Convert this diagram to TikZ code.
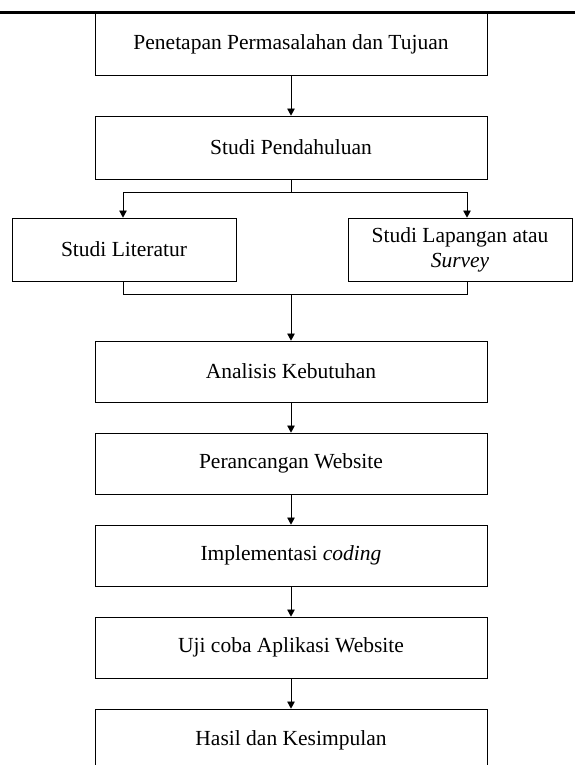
\documentclass[tikz,border=0pt]{standalone}
\usepackage{fontspec}
\setmainfont{Liberation Serif}
\usetikzlibrary{calc}
\usetikzlibrary{arrows.meta}
\tikzset{>={Triangle[width=7.5pt,length=7pt]}}
\tikzset{stage/.style={draw, line width=0.8pt, minimum width=392pt, minimum height=62pt,
    inner sep=0pt, align=center, font=\fontsize{21.5}{25}\selectfont}}
\tikzset{study/.style={stage, minimum width=224pt, minimum height=63pt}}

\begin{document}
\begin{tikzpicture}[x=1pt,y=-1pt]
    \useasboundingbox (0,0) rectangle (575,765);
    \clip (0,0) rectangle (575,765);

    \pgfmathsetmacro\cx{291} % main column
    \pgfmathsetmacro\ysplit{192}
    \pgfmathsetmacro\yjoin{294}
    \coordinate (split) at (\cx,\ysplit);
    \coordinate (splitL) at (123,\ysplit);
    \coordinate (splitR) at (467,\ysplit);
    \coordinate (join) at (\cx,\yjoin);
    \coordinate (joinL) at (123,\yjoin);
    \coordinate (joinR) at (467,\yjoin);

    % TOP RULE
    \draw[line width=2.5pt] (0,12.5) -- (575,12.5);

    % STAGES
    \node[stage] (tujuan) at (\cx,44) {Penetapan Permasalahan dan Tujuan};
    \node[stage, minimum height=63pt] (pendahuluan) at (\cx,147.5) {Studi Pendahuluan};
    \node[study] (literatur) at (124,249.5) {Studi Literatur};
    \node[study] (survei) at (460,249.5) {Studi Lapangan atau\\\textit{Survey}};
    \node[stage, minimum height=61pt] (analisis) at (\cx,371.5) {Analisis Kebutuhan};
    \node[stage, minimum height=61pt] (rancang) at (\cx,463.5) {Perancangan Website};
    \node[stage, minimum height=61pt] (koding) at (\cx,555.5) {Implementasi \textit{coding}};
    \node[stage, minimum height=61pt] (ujicoba) at (\cx,647.5) {Uji coba Aplikasi Website};
    \node[stage] (hasil) at (\cx,740) {Hasil dan Kesimpulan};

    % FLOW
    \draw[->] (tujuan) -- (pendahuluan);
    \draw (pendahuluan.south) -- (split);
    \draw (splitL) -- (splitR);
    \draw[->] (splitL) -- (splitL |- literatur.north);
    \draw[->] (splitR) -- (splitR |- survei.north);

    \draw (joinL |- literatur.south) -- (joinL) -- (joinR) -- (joinR |- survei.south);
    \draw[->] (join) -- (analisis);
    \draw[->] (analisis) -- (rancang);
    \draw[->] (rancang) -- (koding);
    \draw[->] (koding) -- (ujicoba);
    \draw[->] (ujicoba) -- (hasil);

\end{tikzpicture}
\end{document}
